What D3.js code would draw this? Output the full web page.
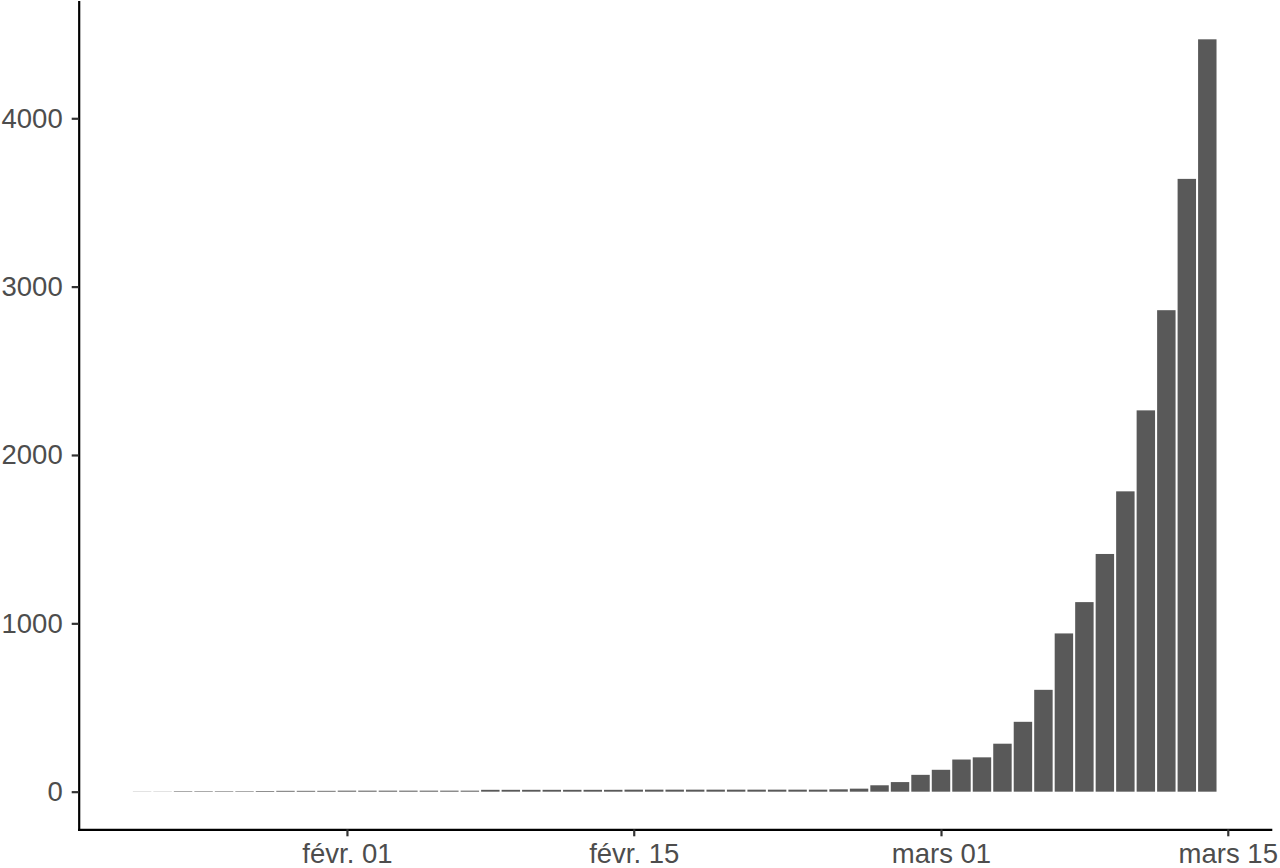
<!DOCTYPE html>
<html>
<head>
<meta charset="utf-8">
<script src="https://cdn.jsdelivr.net/npm/d3@7"></script>
<style>
body { margin: 0; background: #fff; }
svg { display: block; }
.axis text { font-family: "Liberation Sans", Arial, sans-serif; font-size: 27.5px; fill: #4d4d4d; }
.axis .domain { stroke: #000; stroke-width: 2.2; }
.axis .tick line { stroke: #333; stroke-width: 2.2; }
</style>
</head>
<body>
<div id="chart"></div>
<script>
'use strict';

// cumulative cases per day, 22 Jan .. 14 Mar 2020
let days = [
	'2020-01-22', '2020-01-23', '2020-01-24', '2020-01-25', '2020-01-26', '2020-01-27', '2020-01-28',
	'2020-01-29', '2020-01-30', '2020-01-31', '2020-02-01', '2020-02-02', '2020-02-03', '2020-02-04',
	'2020-02-05', '2020-02-06', '2020-02-07', '2020-02-08', '2020-02-09', '2020-02-10', '2020-02-11',
	'2020-02-12', '2020-02-13', '2020-02-14', '2020-02-15', '2020-02-16', '2020-02-17', '2020-02-18',
	'2020-02-19', '2020-02-20', '2020-02-21', '2020-02-22', '2020-02-23', '2020-02-24', '2020-02-25',
	'2020-02-26', '2020-02-27', '2020-02-28', '2020-02-29', '2020-03-01', '2020-03-02', '2020-03-03',
	'2020-03-04', '2020-03-05', '2020-03-06', '2020-03-07', '2020-03-08', '2020-03-09', '2020-03-10',
	'2020-03-11', '2020-03-12', '2020-03-13', '2020-03-14',
];
let cases = [
	1, 1, 3, 3, 3, 3, 4,
	5, 5, 5, 6, 6, 6, 6,
	6, 6, 6, 11, 11, 11, 11,
	11, 11, 11, 12, 12, 12, 12,
	12, 12, 12, 12, 12, 12, 14,
	18, 38, 57, 100, 130, 191, 204,
	285, 415, 605, 940, 1126, 1412, 1784,
	2265, 2860, 3640, 4469,
];

let yTicks = [0, 1000, 2000, 3000, 4000];
let xTickDates = ['2020-02-01', '2020-02-15', '2020-03-01', '2020-03-15'];
let xTickLabels = ['févr. 01', 'févr. 15', 'mars 01', 'mars 15'];

let W = 1280;
let H = 868;
let pLeft = 78.7, pRight = 1270.7, pTop = 1.7, pBottom = 829.3;
let DAY = 864e5;

let parse = d3.utcParse('%Y-%m-%d');
let data = days.map(function(d, i) { return {date: parse(d), n: cases[i]}; });

// ggplot-like: bar width 0.9 day, 5% expansion on each side
let half = 0.45 * DAY;
let x0 = +data[0].date - half;
let x1 = +data[data.length-1].date + half;
let xpad = (x1 - x0) * 0.05;
let x = d3.scaleUtc()
	.domain([new Date(x0 - xpad), new Date(x1 + xpad)])
	.range([pLeft, pRight]);

let ymax = d3.max(cases);
let y = d3.scaleLinear()
	.domain([-ymax*0.05, ymax*1.05])
	.range([pBottom, pTop]);

let svg = d3.select('#chart')
	.append('svg')
		.attr('width', W)
		.attr('height', H)
	;

svg.append('g')
	.classed('bars', true)
	.selectAll('rect')
	.data(data)
	.join('rect')
		.attr('x', function(d) { return x(new Date(+d.date - half)); })
		.attr('width', function(d) { return x(new Date(+d.date + half)) - x(new Date(+d.date - half)); })
		.attr('y', function(d) { return y(d.n); })
		.attr('height', function(d) { return y(0) - y(d.n); })
		.attr('fill', '#595959')
	;

let tickMap = {};
xTickDates.forEach(function(d, i) { tickMap[+parse(d)] = xTickLabels[i]; });

svg.append('g')
	.classed('axis', true)
	.attr('transform', 'translate(0,' + pBottom + ')')
	.call(d3.axisBottom(x)
		.tickValues(xTickDates.map(parse))
		.tickFormat(function(d) { return tickMap[+d]; })
		.tickSize(7)
		.tickSizeOuter(0)
		.tickPadding(7))
	;

svg.append('g')
	.classed('axis', true)
	.attr('transform', 'translate(' + pLeft + ',0)')
	.call(d3.axisLeft(y)
		.tickValues(yTicks)
		.tickFormat(d3.format('d'))
		.tickSize(7)
		.tickSizeOuter(0)
		.tickPadding(9))
	;

svg.selectAll('.axis .domain').attr('stroke-linecap', 'square');
</script>
</body>
</html>
